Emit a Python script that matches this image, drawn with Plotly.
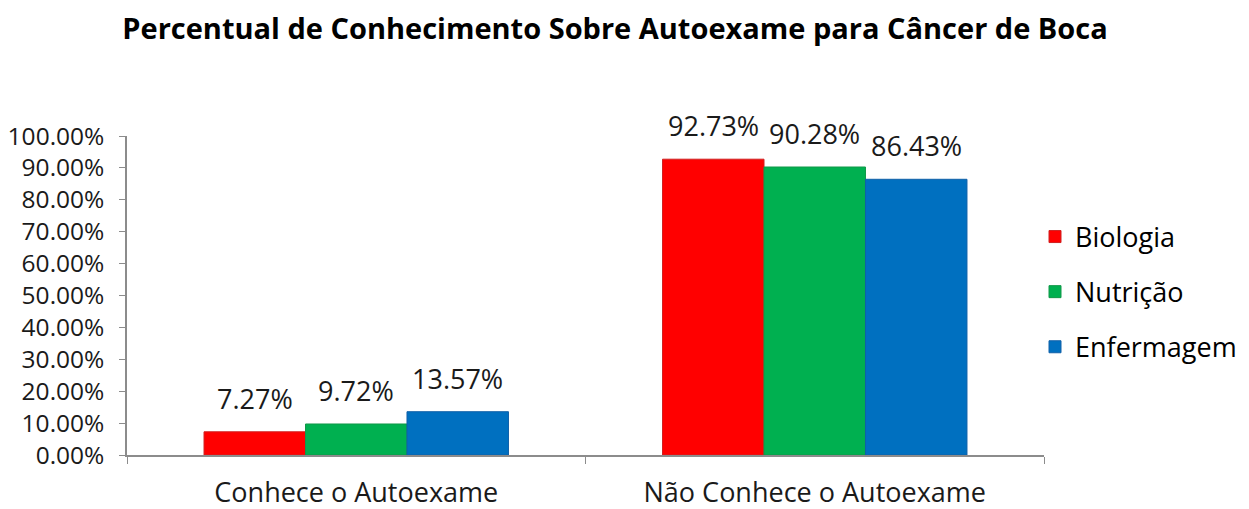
import plotly.graph_objects as go

categories = ["Conhece o Autoexame", "Não Conhece o Autoexame"]
series_names = ["Biologia", "Nutrição", "Enfermagem"]
biologia = [0.0727, 0.9273]
nutricao = [0.0972, 0.9028]
enfermagem = [0.1357, 0.8643]
colors = ["#FF0000", "#00B050", "#0070C0"]
edge_colors = ["#D02020", "#109848", "#1060A8"]
y_ticks = [i / 10 for i in range(11)]

FONT = "Open Sans"
# page body has an 8px margin, so figure coordinates = screen - 8
W, H = 1249, 509
ML, MR, MT, MB = 119, 213, 128, 62
BARGAP = 0.336
plot_w = W - ML - MR
bar_px = plot_w / len(categories) * (1 - BARGAP) / len(series_names)

fig = go.Figure()
all_series = [biologia, nutricao, enfermagem]
for i, (name, vals) in enumerate(zip(series_names, all_series)):
    fig.add_trace(go.Bar(
        x=categories, y=vals, name=name,
        legendgroup=name,
        marker=dict(color=colors[i], line=dict(color=edge_colors[i], width=1)),
        cliponaxis=False,
    ))
    for c, v in zip(categories, vals):
        fig.add_annotation(
            x=c, y=v, text=f"{v*100:.2f}%", showarrow=False,
            xanchor="center", yanchor="bottom",
            xshift=(i - (len(series_names) - 1) / 2) * bar_px, yshift=13,
            font=dict(family=FONT, size=27, color="#1a1a1a"),
        )

fig.update_layout(
    width=W, height=H,
    margin=dict(l=ML, r=MR, t=MT, b=MB, autoexpand=False),
    paper_bgcolor="white", plot_bgcolor="white",
    barmode="group", bargap=BARGAP, bargroupgap=0,
    title=dict(text="<b>Percentual de Conhecimento Sobre Autoexame para Câncer de Boca</b>",
               x=607 / W, xanchor="center", y=1 - 21 / H, yanchor="middle",
               font=dict(family=FONT, size=29, color="black")),
    font=dict(family=FONT, color="#1a1a1a"),
    showlegend=True,
    legend=dict(xref="container", yref="container", x=1027 / W, y=1 - 284 / H,
                xanchor="left", yanchor="middle", traceorder="grouped", tracegroupgap=17,
                font=dict(family=FONT, size=27, color="black"), itemwidth=30),
    xaxis=dict(showline=True, linecolor="#8c8c8c", linewidth=1.5, ticks="outside",
               tickson="boundaries", ticklen=7, tickcolor="#8c8c8c",
               tickfont=dict(family=FONT, size=27, color="#1a1a1a"), ticklabelstandoff=13,
               showgrid=False),
    yaxis=dict(range=[0, 1], tickvals=y_ticks, tickformat=".2%", showline=True,
               linecolor="#8c8c8c", linewidth=1.5, ticks="outside", ticklen=6,
               tickcolor="#8c8c8c", tickfont=dict(family=FONT, size=24.5, color="#1a1a1a"),
               ticklabelstandoff=10, showgrid=False, zeroline=False),
)

fig.write_html("out.html")
